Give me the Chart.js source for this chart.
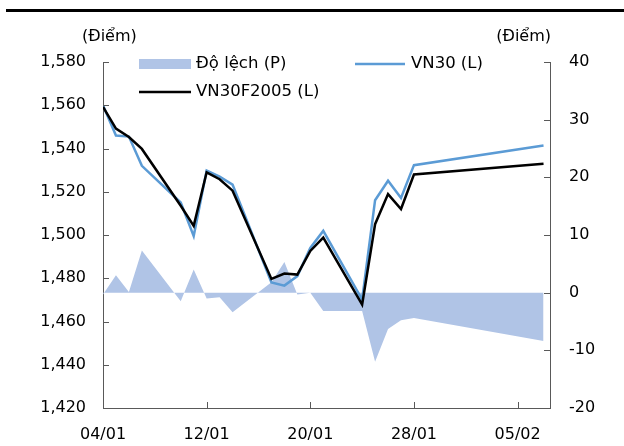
<!DOCTYPE html>
<html>
<head>
<meta charset="utf-8">
<script src="https://cdn.jsdelivr.net/npm/chart.js@4.4.1/dist/chart.umd.min.js"></script>
<style>
  body { margin: 0; background: #fff; }
  canvas { display: block; }
</style>
</head>
<body>
<canvas id="myChart" width="624" height="446"></canvas>
<script>
// trading days (weekends and Tet holiday are missing)
const dates = ['2022-01-04','2022-01-05','2022-01-06','2022-01-07',
  '2022-01-10','2022-01-11','2022-01-12','2022-01-13','2022-01-14',
  '2022-01-17','2022-01-18','2022-01-19','2022-01-20','2022-01-21',
  '2022-01-24','2022-01-25','2022-01-26','2022-01-27','2022-01-28',
  '2022-02-07']
const vn30 = [1560.0, 1546.0, 1545.5, 1532.0,
  1515.0, 1499.5, 1529.8, 1527.0, 1523.3,
  1478.1, 1476.6, 1481.0, 1494.0, 1501.9,
  1470.1, 1516.1, 1525.1, 1517.1, 1532.3,
  1541.4]
const vn30f = [1559.3, 1549.2, 1545.3, 1539.8,
  1513.5, 1504.2, 1529.0, 1525.8, 1520.5,
  1479.7, 1482.2, 1481.7, 1492.6, 1498.8,
  1467.8, 1505.0, 1518.9, 1512.0, 1528.0,
  1532.9]
const spread = [-0.3, 3.0, 0.1, 7.3,
  -1.5, 4.0, -1.0, -0.8, -3.4,
  1.8, 5.3, -0.3, 0.0, -3.2,
  -3.2, -12.0, -6.3, -4.8, -4.4,
  -8.4]
const tickLabels = ['04/01','12/01','20/01','28/01','05/02']

const startDay = Date.parse(dates[0])
const days = dates.map(d => (Date.parse(d) - startDay) / 86400000)
const pts = arr => arr.map((v, i) => ({x: days[i], y: v}))

const axisColor = '#595959'
const fontFamily = 'Tahoma, "DejaVu Sans", sans-serif'
Chart.defaults.font.family = fontFamily
Chart.defaults.font.size = 16
Chart.defaults.color = '#000'

const extras = {
  id: 'extras',
  afterDraw(chart) {
    const ctx = chart.ctx
    const a = chart.chartArea
    const {x, y, y1} = chart.scales
    ctx.save()
    // rule across the top
    ctx.fillStyle = '#000'
    ctx.fillRect(6, 9, 618, 3)
    // tick marks pointing inwards
    ctx.strokeStyle = axisColor
    ctx.lineWidth = 1
    ctx.beginPath()
    x.ticks.forEach(t => {
      const px = Math.round(x.getPixelForValue(t.value)) + 0.5
      ctx.moveTo(px, a.bottom); ctx.lineTo(px, a.bottom - 6)
    })
    y.ticks.forEach(t => {
      const py = Math.round(y.getPixelForValue(t.value)) + 0.5
      ctx.moveTo(a.left, py); ctx.lineTo(a.left + 6, py)
    })
    y1.ticks.forEach(t => {
      const py = Math.round(y1.getPixelForValue(t.value)) + 0.5
      ctx.moveTo(a.right, py); ctx.lineTo(a.right - 6, py)
    })
    ctx.stroke()
    // axis titles
    ctx.fillStyle = '#000'
    ctx.font = '16px ' + fontFamily
    ctx.textBaseline = 'middle'
    ctx.textAlign = 'left'
    ctx.fillText('(Điểm)', 82, 37)
    ctx.textAlign = 'right'
    ctx.fillText('(Điểm)', 551, 37)
    // legend
    ctx.textAlign = 'left'
    ctx.font = '16.5px ' + fontFamily
    const ds = chart.data.datasets
    ctx.fillStyle = ds[0].backgroundColor
    ctx.fillRect(139, 59, 52, 10)
    ctx.lineWidth = 2.5
    ctx.strokeStyle = ds[1].borderColor
    ctx.beginPath(); ctx.moveTo(355, 64); ctx.lineTo(405, 64); ctx.stroke()
    ctx.strokeStyle = ds[2].borderColor
    ctx.beginPath(); ctx.moveTo(139, 92); ctx.lineTo(191, 92); ctx.stroke()
    ctx.fillStyle = '#000'
    ctx.fillText(ds[0].label, 196, 64)
    ctx.fillText(ds[1].label, 411, 64)
    ctx.fillText(ds[2].label, 196, 92)
    ctx.restore()
  }
}

let chart = new Chart('myChart', {
  type: 'line',
  data: {
    datasets: [{
      label: 'Độ lệch (P)',
      data: pts(spread),
      yAxisID: 'y1',
      backgroundColor: '#B0C4E6',
      borderWidth: 0,
      pointRadius: 0,
      fill: 'origin',
      order: 3
    }, {
      label: 'VN30 (L)',
      data: pts(vn30),
      yAxisID: 'y',
      borderColor: '#5B9BD5',
      borderWidth: 2.5,
      pointRadius: 0,
      fill: false,
      order: 2
    }, {
      label: 'VN30F2005 (L)',
      data: pts(vn30f),
      yAxisID: 'y',
      borderColor: '#000000',
      borderWidth: 2.5,
      pointRadius: 0,
      fill: false,
      order: 1
    }]
  },
  options: {
    responsive: false,
    animation: false,
    events: [],
    layout: { padding: { top: 62, left: 0, right: 0, bottom: 0 } },
    plugins: { legend: { display: false }, tooltip: { enabled: false } },
    scales: {
      x: {
        type: 'linear',
        min: 0,
        max: 34.5,
        afterBuildTicks: s => { s.ticks = tickLabels.map((_, i) => ({value: i * 8})) },
        afterFit: s => { s.height = 38 },
        ticks: {
          callback: v => tickLabels[Math.round(v / 8)],
          padding: 17,
          maxRotation: 0,
          autoSkip: false
        },
        grid: { display: false, drawTicks: false },
        border: { display: true, color: axisColor, width: 1 }
      },
      y: {
        position: 'left',
        min: 1420,
        max: 1580,
        afterFit: s => { s.width = 103 },
        ticks: {
          stepSize: 20,
          padding: 17,
          callback: v => v.toLocaleString('en-US')
        },
        grid: { display: false, drawTicks: false },
        border: { display: true, color: axisColor, width: 1 }
      },
      y1: {
        position: 'right',
        min: -20,
        max: 40,
        afterFit: s => { s.width = 74 },
        ticks: { stepSize: 10, padding: 19 },
        grid: { display: false, drawTicks: false },
        border: { display: true, color: axisColor, width: 1 }
      }
    }
  },
  plugins: [extras]
})
</script>
</body>
</html>
